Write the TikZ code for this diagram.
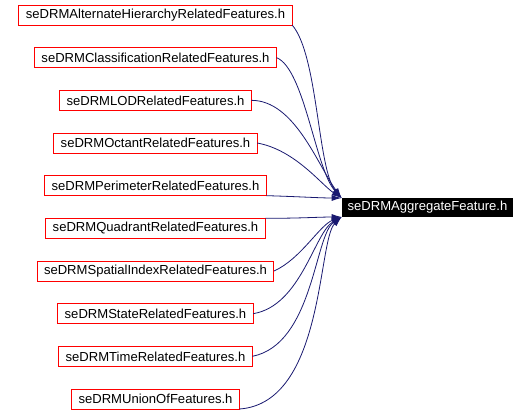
\documentclass[tikz,border=0pt]{standalone}
\usepackage{fontspec}
\setmainfont{Liberation Sans}
\usepackage{xcolor}
\usetikzlibrary{arrows.meta}
\definecolor{edgeblue}{RGB}{25,25,112}

\begin{document}
\begin{tikzpicture}[x=0.75pt, y=-0.75pt, node distance={32pt},
                    file/.style = {draw=red, fill=white, line width=0.75pt, font=\fontsize{9.8pt}{11pt}\selectfont, inner xsep=5.25pt, inner ysep=0pt, minimum height=15pt, outer sep=0pt},
                    target/.style = {fill=black, text=white, font=\fontsize{9.8pt}{11pt}\selectfont, inner xsep=4.5pt, inner ysep=0pt, minimum height=14.25pt, outer sep=0pt},
                    dep/.style = {draw=edgeblue, line width=0.6pt, -{Latex[length=7.5pt,width=4.5pt]}}]
                    \useasboundingbox (0,0) rectangle (529,414);

                    \node[file] (alt) at (155.5,15) {seDRMAlternateHierarchyRelatedFeatures.h};
                    \node[file] (cls) [below of=alt] {seDRMClassificationRelatedFeatures.h};
                    \node[file] (lod) [below of=cls] {seDRMLODRelatedFeatures.h};
                    \node[file] (oct) [below of=lod] {seDRMOctantRelatedFeatures.h};
                    \node[file] (per) [below of=oct] {seDRMPerimeterRelatedFeatures.h};
                    \node[file] (quad) [below of=per] {seDRMQuadrantRelatedFeatures.h};
                    \node[file] (spat) [below of=quad] {seDRMSpatialIndexRelatedFeatures.h};
                    \node[file] (state) [below of=spat] {seDRMStateRelatedFeatures.h};
                    \node[file] (time) [below of=state] {seDRMTimeRelatedFeatures.h};
                    \node[file] (union) [below of=time] {seDRMUnionOfFeatures.h};

                    \node[target] (agg) at (427.5,207.5) {seDRMAggregateFeature.h};

                    \draw[dep] (alt.south east) .. controls +(26,30) and +(-24,-28) .. (agg.north west);
                    \draw[dep] (cls.east) .. controls +(28,11) and +(-26,-28) .. (agg.north west);
                    \draw[dep] (lod.east) .. controls +(43,0) and +(-24,-33) .. (agg.north west);
                    \draw[dep] (oct.east) .. controls +(38,7) and +(-20,-13) .. (agg.north west);
                    \draw[dep] (per.south east) .. controls +(34,1) and +(-22,0) .. (agg.north west);
                    \draw[dep] (quad.north east) .. controls +(35,0) and +(-22,0) .. (agg.south west);
                    \draw[dep] (spat.east) .. controls +(27,-12) and +(-22,8) .. (agg.south west);
                    \draw[dep] (state.east) .. controls +(48,-8) and +(-27,15) .. (agg.south west);
                    \draw[dep] (time.east) .. controls +(61,-12) and +(-27,18) .. (agg.south west);
                    \draw[dep] (union.south east) .. controls +(85,-6) and +(-24,23) .. (agg.south west);
                \end{tikzpicture}
\end{document}
